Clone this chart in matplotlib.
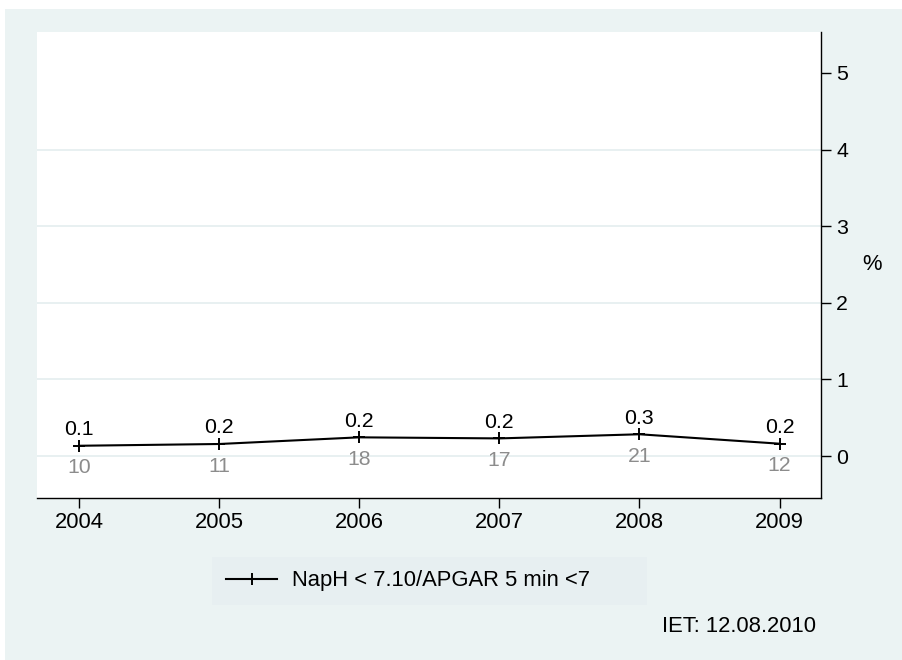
import matplotlib
matplotlib.use("Agg")
import matplotlib.pyplot as plt
from matplotlib.patches import Rectangle

years = [2004, 2005, 2006, 2007, 2008, 2009]
rates = [0.134, 0.157, 0.244, 0.230, 0.284, 0.161]
rate_labels = ["0.1", "0.2", "0.2", "0.2", "0.3", "0.2"]
counts = ["10", "11", "18", "17", "21", "12"]
yticks = [0, 1, 2, 3, 4, 5]
series_name = "NapH < 7.10/APGAR 5 min <7"
footnote = "IET: 12.08.2010"

plt.rcParams['font.family'] = ['Liberation Sans', 'DejaVu Sans']

W, H = 903, 660
bg = '#EBF3F3'
fig = plt.figure(figsize=(W / 100, H / 100), dpi=100, facecolor=bg)
# white strips at top and left edges
fig.patches.append(Rectangle((0, 1 - 9 / H), 1, 9 / H, transform=fig.transFigure,
                             facecolor='white', edgecolor='none', zorder=-10))
fig.patches.append(Rectangle((0, 0), 5 / W, 1, transform=fig.transFigure,
                             facecolor='white', edgecolor='none', zorder=-10))

ax = fig.add_axes([37 / W, 1 - 497.7 / H, (821 - 37) / W, (497.7 - 32) / H])
ax.set_facecolor('white')

ax.plot(years, rates, color='black', lw=1.5, marker='+', ms=8, mew=1.4,
        label=series_name, zorder=3)
for x, y, lab, c in zip(years, rates, rate_labels, counts):
    ax.annotate(lab, (x, y), xytext=(0, 7.7), textcoords='offset points',
                ha='center', va='baseline', fontsize=15.3, color='black')
    ax.annotate(c, (x, y), xytext=(0, -19.9), textcoords='offset points',
                ha='center', va='baseline', fontsize=15.3, color='#8c8c8c')

ax.set_xlim(2003.70, 2009.296)
ax.set_ylim(-0.544, 5.535)
ax.set_xticks(years)
ax.set_yticks(yticks)

ax.yaxis.tick_right()
ax.yaxis.set_label_position('right')
ax.set_ylabel('%', rotation=0, fontsize=15.8, va='center', ha='center')
ax.yaxis.set_label_coords(1.065, 0.5)

for s in ['left', 'top']:
    ax.spines[s].set_visible(False)
for s in ['right', 'bottom']:
    ax.spines[s].set_color('black')
    ax.spines[s].set_linewidth(1.0)

ax.tick_params(axis='x', length=7.5, width=1.0, pad=2.5, labelsize=15.8, colors='black')
ax.tick_params(axis='y', length=7.0, width=1.0, pad=4.0, labelsize=15.3, colors='black')

ax.grid(axis='y', color='#e6eff0', lw=1.3, zorder=0)
ax.set_axisbelow(True)
gl = ax.yaxis.get_gridlines()
gl[-1].set_visible(False)

leg = fig.legend(loc='lower left',
                 bbox_to_anchor=(212.3 / W, 1 - 605 / H, 434.4 / W, 51.7 / H),
                 mode='expand', fontsize=15.8, frameon=True, fancybox=False,
                 borderpad=0.62, borderaxespad=0, handlelength=2.35,
                 handletextpad=0.65)
frame = leg.get_frame()
frame.set_facecolor('#E7EFF1')
frame.set_edgecolor('none')
frame.set_alpha(1)

fig.text(816 / W, 1 - 627 / H, footnote, ha='right', va='center', fontsize=15.8)

fig.savefig('out.png', dpi=100, facecolor=fig.get_facecolor())
